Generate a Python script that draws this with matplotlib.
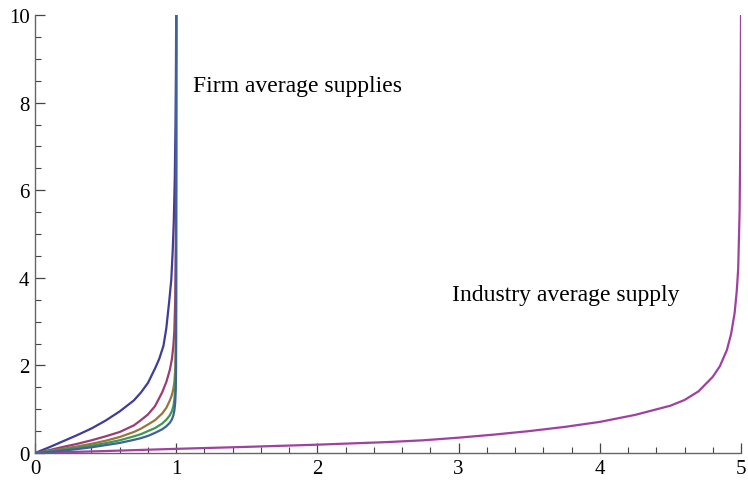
import matplotlib
matplotlib.use("Agg")
import matplotlib.pyplot as plt
from matplotlib.ticker import MultipleLocator

# firm average supply curves (quantity, price)
firm_x = [0.0, 0.1, 0.2, 0.3, 0.4, 0.5, 0.6, 0.7, 0.75, 0.8, 0.85, 0.9, 0.93, 0.955, 0.97, 0.98, 0.987, 0.993, 0.997, 0.999, 1.0]
firm1_x = [0.0, 0.1, 0.2, 0.3, 0.4, 0.5, 0.6, 0.7, 0.75, 0.8, 0.85, 0.88, 0.91, 0.93, 0.95, 0.965, 0.975, 0.983, 0.99, 0.995, 0.998, 1.0]
firm1_y = [0.0, 0.13, 0.27, 0.41, 0.56, 0.74, 0.95, 1.2, 1.38, 1.6, 1.93, 2.15, 2.45, 2.85, 3.45, 3.95, 4.6, 5.3, 6.3, 7.5, 8.7, 10.0]
firm2_y = [0.0, 0.065, 0.14, 0.21, 0.29, 0.38, 0.48, 0.63, 0.75, 0.88, 1.07, 1.38, 1.62, 1.9, 2.15, 2.45, 2.8, 3.5, 4.8, 6.5, 10.0]
firm3_y = [0.0, 0.048, 0.10, 0.15, 0.21, 0.28, 0.365, 0.48, 0.555, 0.65, 0.75, 0.9, 1.03, 1.2, 1.33, 1.47, 1.62, 1.9, 2.5, 3.5, 10.0]
firm4_y = [0.0, 0.036, 0.077, 0.12, 0.168, 0.225, 0.29, 0.38, 0.43, 0.5, 0.57, 0.67, 0.76, 0.86, 0.96, 1.07, 1.22, 1.45, 1.85, 2.6, 10.0]
firm5_y = [0.0, 0.025, 0.054, 0.09, 0.13, 0.18, 0.23, 0.3, 0.34, 0.39, 0.46, 0.54, 0.61, 0.69, 0.77, 0.86, 0.97, 1.15, 1.45, 1.93, 10.0]

# industry average supply
industry_x = [0.0, 0.5, 1.0, 1.5, 2.0, 2.5, 2.75, 3.0, 3.25, 3.5, 3.75, 4.0, 4.25, 4.5, 4.6, 4.7, 4.8, 4.85, 4.9, 4.93, 4.955, 4.97, 4.98, 4.99, 4.995, 4.998, 5.0]
industry_y = [0.0, 0.045, 0.095, 0.14, 0.19, 0.25, 0.29, 0.35, 0.42, 0.50, 0.595, 0.71, 0.87, 1.08, 1.21, 1.41, 1.74, 1.98, 2.35, 2.72, 3.2, 3.7, 4.2, 5.5, 7.0, 8.5, 10.0]

firm_series = [
    (firm1_x, firm1_y, "#3f3d99"),
    (firm_x, firm2_y, "#993d74"),
    (firm_x, firm3_y, "#99743d"),
    (firm_x, firm4_y, "#3d9951"),
    (firm_x, firm5_y, "#3d6299"),
]

plt.rcParams["font.family"] = ["Liberation Serif", "DejaVu Serif"]

fig = plt.figure(figsize=(7.48, 4.81), dpi=100)
ax = fig.add_axes([35 / 748, 27 / 481, 706 / 748, 438 / 481])

ax.plot(industry_x, industry_y, color="#a040a0", lw=1.6)
for xs, ys, col in firm_series:
    ax.plot(xs, ys, color=col, lw=1.6)

ax.set_xlim(0, 5)
ax.set_ylim(0, 10)

for side in ["top", "right"]:
    ax.spines[side].set_visible(False)
for side in ["left", "bottom"]:
    ax.spines[side].set_color("#666666")
    ax.spines[side].set_linewidth(1.0)

ax.xaxis.set_major_locator(MultipleLocator(1))
ax.xaxis.set_minor_locator(MultipleLocator(0.2))
ax.yaxis.set_major_locator(MultipleLocator(2))
ax.yaxis.set_minor_locator(MultipleLocator(0.5))
ax.tick_params(which="both", direction="in", color="#444444", labelsize=15, labelcolor="black")
ax.tick_params(which="major", length=7, width=0.9, pad=4)
ax.tick_params(which="minor", length=4, width=0.8)

ax.text(1.12, 8.38, "Firm average supplies", fontsize=17, va="center", ha="left")
ax.text(2.95, 3.63, "Industry average supply", fontsize=17, va="center", ha="left")

fig.savefig("out.png", dpi=100)
